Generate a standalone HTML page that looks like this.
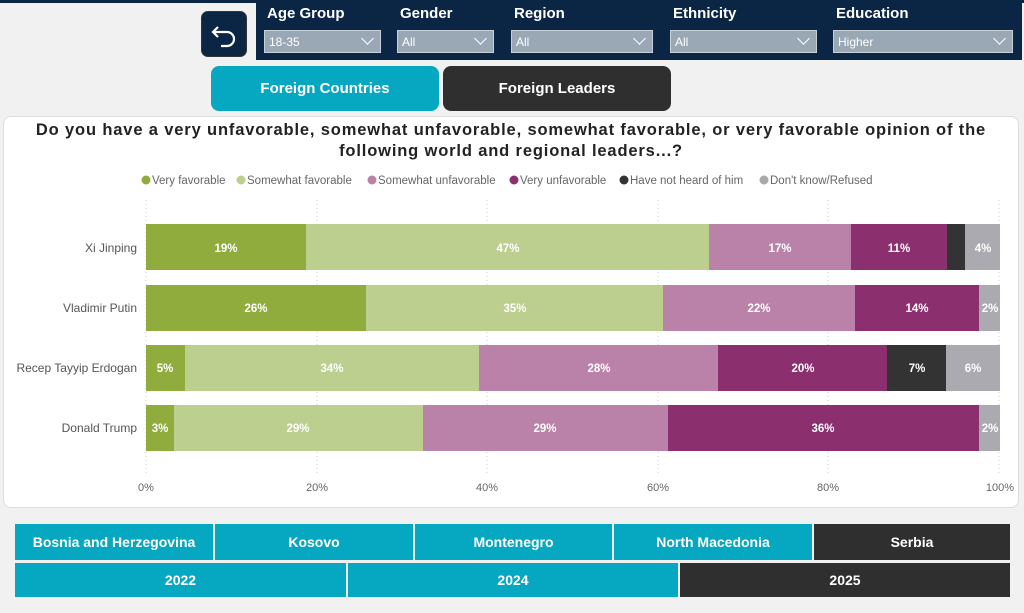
<!DOCTYPE html>
<html><head><meta charset="utf-8"><style>
*{margin:0;padding:0;box-sizing:border-box}
body{width:1024px;height:613px;background:#f1f1f1;position:relative;overflow:hidden;font-family:"Liberation Sans",sans-serif}
.a{position:absolute}
.lbl{color:#fff;font-weight:bold;font-size:15px;top:5px}
.dd{top:30px;height:23px;background:#9aa7b4;border:1px solid #c8d0d8;color:#fff;font-size:12px;padding:4px 0 0 4px}
.dd:after{content:"";position:absolute;right:8px;top:3px;width:8px;height:8px;border-right:1.5px solid #fff;border-bottom:1.5px solid #fff;transform:rotate(45deg)}
.btn{color:#fff;font-weight:bold;font-size:14px;display:flex;align-items:center;justify-content:center}
</style></head><body>
<div class="a" style="left:0;top:0;width:1024px;height:3px;background:#0b2545"></div>
<div class="a" style="left:256px;top:0;width:766px;height:60px;background:#0b2545"></div>
<div class="a" style="left:201px;top:11px;width:46px;height:46px;background:#0b2545;border-radius:7px;border:1px solid #333"></div>
<svg class="a" style="left:201px;top:11px" width="46" height="46"><path d="M17 16 L12 21 L17 26 M12 21 H26 A7 7 0 0 1 26 35 H20" fill="none" stroke="#fff" stroke-width="2.2"/></svg>
<div class="a lbl" style="left:267px">Age Group</div>
<div class="a lbl" style="left:400px">Gender</div>
<div class="a lbl" style="left:514px">Region</div>
<div class="a lbl" style="left:673px">Ethnicity</div>
<div class="a lbl" style="left:836px">Education</div>
<div class="a dd" style="left:264px;width:117px">18-35</div>
<div class="a dd" style="left:397px;width:97px">All</div>
<div class="a dd" style="left:511px;width:142px">All</div>
<div class="a dd" style="left:670px;width:147px">All</div>
<div class="a dd" style="left:833px;width:180px">Higher</div>
<div class="a btn" style="left:211px;top:66px;width:228px;height:45px;background:#06a7c0;border-radius:8px;font-size:15px">Foreign Countries</div>
<div class="a btn" style="left:443px;top:66px;width:228px;height:45px;background:#2f2f2f;border-radius:8px;font-size:15px">Foreign Leaders</div>
<div class="a" style="left:3px;top:116px;width:1016px;height:392px;background:#fff;border:1px solid #ddd;border-radius:8px"></div>
<div class="a" style="left:3px;top:120px;width:1016px;text-align:center;font-weight:bold;font-size:16.5px;letter-spacing:0.85px;line-height:21px;color:#222">Do you have a very unfavorable, somewhat unfavorable, somewhat favorable, or very favorable opinion of the<br>following world and regional leaders...?</div>
<svg class="a" style="left:0;top:0" width="1024" height="613" font-family="Liberation Sans,sans-serif">
<g font-size="11.5" fill="#666">
<circle cx="146" cy="180" r="4.5" fill="#8fac3d"/><text x="152" y="184">Very favorable</text>
<circle cx="241" cy="180" r="4.5" fill="#bccf8f"/><text x="247" y="184">Somewhat favorable</text>
<circle cx="372" cy="180" r="4.5" fill="#ba82a8"/><text x="378" y="184">Somewhat unfavorable</text>
<circle cx="514" cy="180" r="4.5" fill="#8b2f6e"/><text x="520" y="184">Very unfavorable</text>
<circle cx="624" cy="180" r="4.5" fill="#333"/><text x="630" y="184">Have not heard of him</text>
<circle cx="764" cy="180" r="4.5" fill="#aaa"/><text x="770" y="184">Don't know/Refused</text>
</g>
<g stroke="#ccc" stroke-dasharray="1,3">
<line x1="146" y1="200" x2="146" y2="475"/><line x1="317" y1="200" x2="317" y2="475"/><line x1="487" y1="200" x2="487" y2="475"/><line x1="658" y1="200" x2="658" y2="475"/><line x1="828" y1="200" x2="828" y2="475"/><line x1="999" y1="200" x2="999" y2="475"/>
</g>
<g font-size="11" fill="#666" text-anchor="middle">
<text x="146" y="491">0%</text><text x="317" y="491">20%</text><text x="487" y="491">40%</text><text x="658" y="491">60%</text><text x="828" y="491">80%</text><text x="1000" y="491">100%</text>
</g>
<g font-size="12" fill="#555" text-anchor="end">
<text x="137" y="252">Xi Jinping</text><text x="137" y="312">Vladimir Putin</text><text x="137" y="372">Recep Tayyip Erdogan</text><text x="137" y="432">Donald Trump</text>
</g>
<g>
<rect x="146" y="224" width="160" height="46" fill="#8fac3d"/><rect x="306" y="224" width="403" height="46" fill="#bccf8f"/><rect x="709" y="224" width="142" height="46" fill="#ba82a8"/><rect x="851" y="224" width="96" height="46" fill="#8b2f6e"/><rect x="947" y="224" width="18" height="46" fill="#333"/><rect x="965" y="224" width="35" height="46" fill="#aaaab0"/>
<rect x="146" y="285" width="220" height="46" fill="#8fac3d"/><rect x="366" y="285" width="297" height="46" fill="#bccf8f"/><rect x="663" y="285" width="192" height="46" fill="#ba82a8"/><rect x="855" y="285" width="124" height="46" fill="#8b2f6e"/><rect x="979" y="285" width="21" height="46" fill="#aaaab0"/>
<rect x="146" y="345" width="39" height="46" fill="#8fac3d"/><rect x="185" y="345" width="294" height="46" fill="#bccf8f"/><rect x="479" y="345" width="239" height="46" fill="#ba82a8"/><rect x="718" y="345" width="169" height="46" fill="#8b2f6e"/><rect x="887" y="345" width="59" height="46" fill="#333"/><rect x="946" y="345" width="54" height="46" fill="#aaaab0"/>
<rect x="146" y="405" width="28" height="46" fill="#8fac3d"/><rect x="174" y="405" width="249" height="46" fill="#bccf8f"/><rect x="423" y="405" width="245" height="46" fill="#ba82a8"/><rect x="668" y="405" width="311" height="46" fill="#8b2f6e"/><rect x="979" y="405" width="21" height="46" fill="#aaaab0"/>
</g>
<g font-size="11.5" font-weight="bold" fill="#fff" text-anchor="middle">
<text x="226" y="252">19%</text><text x="508" y="252">47%</text><text x="780" y="252">17%</text><text x="899" y="252">11%</text><text x="983" y="252">4%</text>
<text x="256" y="312">26%</text><text x="515" y="312">35%</text><text x="759" y="312">22%</text><text x="917" y="312">14%</text><text x="990" y="312">2%</text>
<text x="165" y="372">5%</text><text x="332" y="372">34%</text><text x="599" y="372">28%</text><text x="803" y="372">20%</text><text x="917" y="372">7%</text><text x="973" y="372">6%</text>
<text x="160" y="432">3%</text><text x="298" y="432">29%</text><text x="545" y="432">29%</text><text x="823" y="432">36%</text><text x="990" y="432">2%</text>
</g>
</svg>
<div class="a btn" style="left:15px;top:524px;width:198px;height:36px;background:#06a7c0">Bosnia and Herzegovina</div>
<div class="a btn" style="left:215px;top:524px;width:198px;height:36px;background:#06a7c0">Kosovo</div>
<div class="a btn" style="left:415px;top:524px;width:197px;height:36px;background:#06a7c0">Montenegro</div>
<div class="a btn" style="left:614px;top:524px;width:198px;height:36px;background:#06a7c0">North Macedonia</div>
<div class="a btn" style="left:814px;top:524px;width:196px;height:36px;background:#2f2f2f">Serbia</div>
<div class="a btn" style="left:15px;top:563px;width:331px;height:34px;background:#06a7c0">2022</div>
<div class="a btn" style="left:348px;top:563px;width:330px;height:34px;background:#06a7c0">2024</div>
<div class="a btn" style="left:680px;top:563px;width:330px;height:34px;background:#2f2f2f">2025</div>
</body></html>
